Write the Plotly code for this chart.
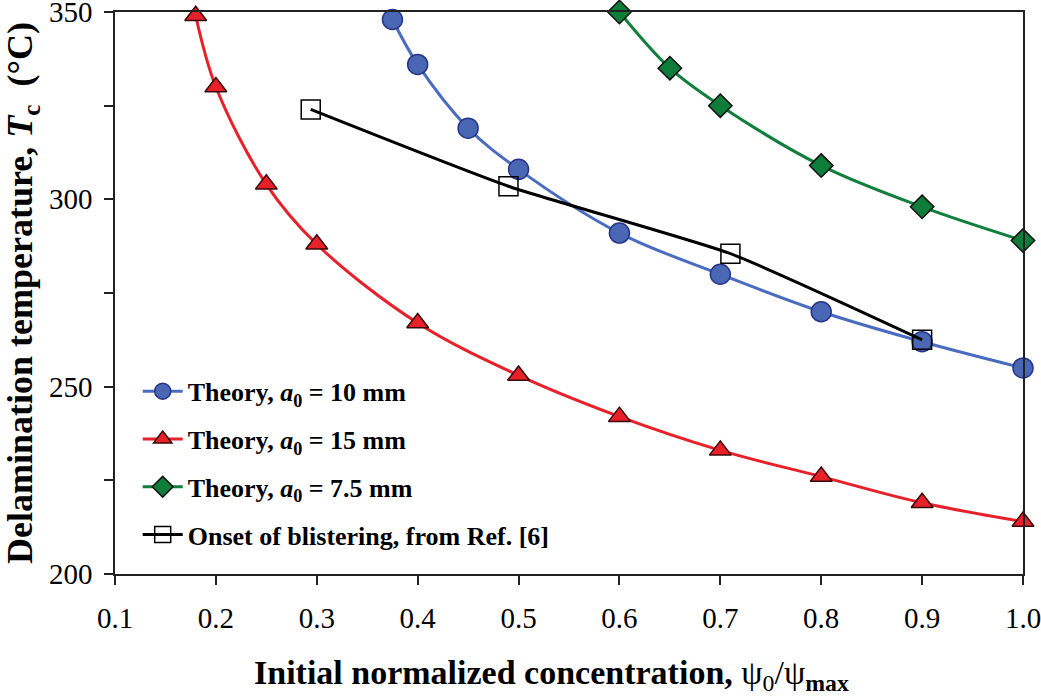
import plotly.graph_objects as go

# Data
x_a10 = [0.375, 0.40, 0.45, 0.50, 0.60, 0.70, 0.80, 0.90, 1.00]
y_a10 = [348, 336, 319, 308, 291, 280, 270, 262, 255]

x_a15 = [0.18, 0.20, 0.25, 0.30, 0.40, 0.50, 0.60, 0.70, 0.80, 0.90, 1.00]
y_a15 = [349, 330, 304, 288, 267, 253, 242, 233, 226, 219, 214]

x_a75 = [0.60, 0.65, 0.70, 0.80, 0.90, 1.00]
y_a75 = [350, 335, 325, 309, 298, 289]

x_ref = [0.294, 0.49, 0.71, 0.90]
y_ref = [324, 303.5, 285.5, 262.5]

FONT = "Liberation Serif"

fig = go.Figure()

fig.add_trace(go.Scatter(
    x=x_a10, y=y_a10, mode="lines+markers", line_shape="spline",
    name="<b>Theory, <i>a</i><sub>0</sub> = 10 mm</b>", legendgroup="a",
    line=dict(color="#4a6cc0", width=3),
    marker=dict(symbol="circle", size=20, color="#4a67b5",
                line=dict(color="#27358a", width=1.5)),
    cliponaxis=False))

fig.add_trace(go.Scatter(
    x=x_a15, y=y_a15, mode="lines+markers", line_shape="spline",
    name="<b>Theory, <i>a</i><sub>0</sub> = 15 mm</b>", legendgroup="b",
    line=dict(color="#e8202a", width=3),
    marker=dict(symbol="triangle-up", size=19, color="#e8202a",
                line=dict(color="#3a0a0a", width=1.5)),
    cliponaxis=False))

fig.add_trace(go.Scatter(
    x=x_a75, y=y_a75, mode="lines+markers", line_shape="spline",
    name="<b>Theory, <i>a</i><sub>0</sub> = 7.5 mm</b>", legendgroup="c",
    line=dict(color="#117f3c", width=3),
    marker=dict(symbol="diamond", size=18, color="#0f7d3a",
                line=dict(color="#111111", width=1.5)),
    cliponaxis=False))

fig.add_trace(go.Scatter(
    x=x_ref, y=y_ref, mode="lines+markers", line_shape="spline",
    name="<b>Onset of blistering, from Ref. [6]</b>", legendgroup="d",
    line=dict(color="#000000", width=3, smoothing=0.5),
    marker=dict(symbol="square-open", size=19, color="#000000",
                line=dict(color="#000000", width=1.5)),
    cliponaxis=False))

fig.update_layout(
    width=1041, height=696,
    margin=dict(l=115, r=18, t=12, b=122),
    paper_bgcolor="white", plot_bgcolor="white",
    font=dict(family=FONT, size=28, color="black"),
    showlegend=True,
    legend=dict(x=0.025, y=0.367, xanchor="left", yanchor="top",
                bgcolor="rgba(0,0,0,0)", font=dict(size=26),
                traceorder="grouped", tracegroupgap=11,
                itemwidth=40),
)

fig.update_xaxes(
    range=[0.1, 1.0], dtick=0.1, tick0=0.1, tickformat=".1f",
    showgrid=False, zeroline=False, automargin=False,
    showline=True, linecolor="#222222", linewidth=1.5, mirror=True,
    ticks="outside", ticklen=9, tickwidth=1.5, tickcolor="#222222",
    tickfont=dict(size=29), ticklabeloverflow="allow", ticklabelstandoff=8,
)

fig.update_yaxes(
    range=[200, 350], dtick=50, tick0=200,
    showgrid=False, zeroline=False, automargin=False,
    showline=True, linecolor="#222222", linewidth=1.5, mirror=True,
    ticks="outside", ticklen=9, tickwidth=1.5, tickcolor="#222222",
    minor=dict(dtick=25, ticks="outside", ticklen=9, tickwidth=1.5, tickcolor="#222222"),
    tickfont=dict(size=29), ticklabeloverflow="allow", ticklabelstandoff=6,
    title=dict(text="<b>Delamination temperature, <i>T</i><sub>c</sub>  (°C)</b>",
               font=dict(size=36), standoff=6),
)

# x-axis title as a positioned annotation (slightly left of the plot centre, as in the reference)
fig.add_annotation(
    text="<b>Initial normalized concentration, </b>ψ<sub>0</sub>/ψ<sub><b>max</b></sub>",
    xref="paper", yref="paper", x=(551 - 115) / 908, y=-0.18,
    xanchor="center", yanchor="middle", showarrow=False,
    font=dict(family=FONT, size=34, color="black"),
)

# remove the default 8px page margin so the figure sits at the window's corner
fig.write_html("out.html", config={"displayModeBar": False},
               post_script="document.body.style.margin='0';")
